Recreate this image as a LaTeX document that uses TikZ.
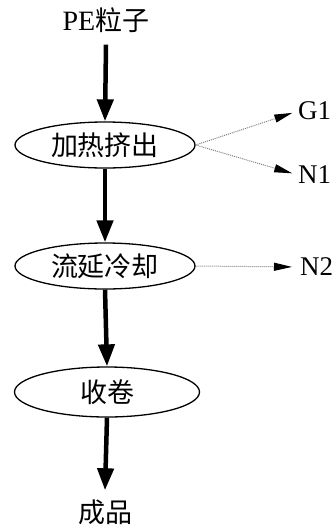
\documentclass[tikz,border=0pt]{standalone}
\usepackage{fontspec}
\setmainfont{Liberation Serif}
\newfontfamily\cjk{Noto Sans CJK SC}
\usetikzlibrary{shapes.geometric,arrows.meta}
\begin{document}
\begin{tikzpicture}[x=1pt,y=1pt,
  proc/.style={ellipse,draw,line width=1.3pt,minimum width=180pt,minimum height=46pt,inner sep=0pt,font=\cjk\fontsize{27}{29}\selectfont},
  lbl/.style={inner sep=0pt,font=\fontsize{28}{30}\selectfont},
  side/.style={anchor=west,inner sep=0pt,font=\fontsize{27}{29}\selectfont},
  mainarrow/.style={line width=4.5pt,-{Triangle[length=22pt,width=16pt]}},
  sidearrow/.style={densely dotted,draw=gray,line width=1pt,-{Triangle[length=18pt,width=8pt,fill=black,color=black]}}]
\useasboundingbox (0,0) rectangle (336,-531);
\node[lbl] (pe) at (106,-20) {PE{\cjk\fontsize{27}{29}\selectfont 粒子}};
\node[proc] (e1) at (105,-145) {加热挤出};
\node[proc] (e2) at (105,-266) {流延冷却};
\node[proc,minimum width=185pt,minimum height=50pt] (e3) at (107,-392) {收卷};
\node[lbl,font=\cjk\fontsize{27}{29}\selectfont] (cp) at (105,-512) {成品};
\node[side] (g1) at (298,-111) {G1};
\node[side] (n1) at (298,-175) {N1};
\node[side] (n2) at (300,-267) {N2};
\draw[mainarrow] ([yshift=-12pt]pe.south) -- (e1.north);
\draw[mainarrow] (e1.south) -- (e2.north);
\draw[mainarrow] (e2.south) -- (e3.north);
\draw[mainarrow] (e3.south) -- ([yshift=9pt]cp.north);
\draw[sidearrow,shorten >=6pt] (e1.east) -- (g1.west);
\draw[sidearrow,shorten >=6pt] (e1.east) -- (n1.west);
\draw[sidearrow,shorten >=8pt] (e2.east) -- (n2.west);
\end{tikzpicture}
\end{document}
